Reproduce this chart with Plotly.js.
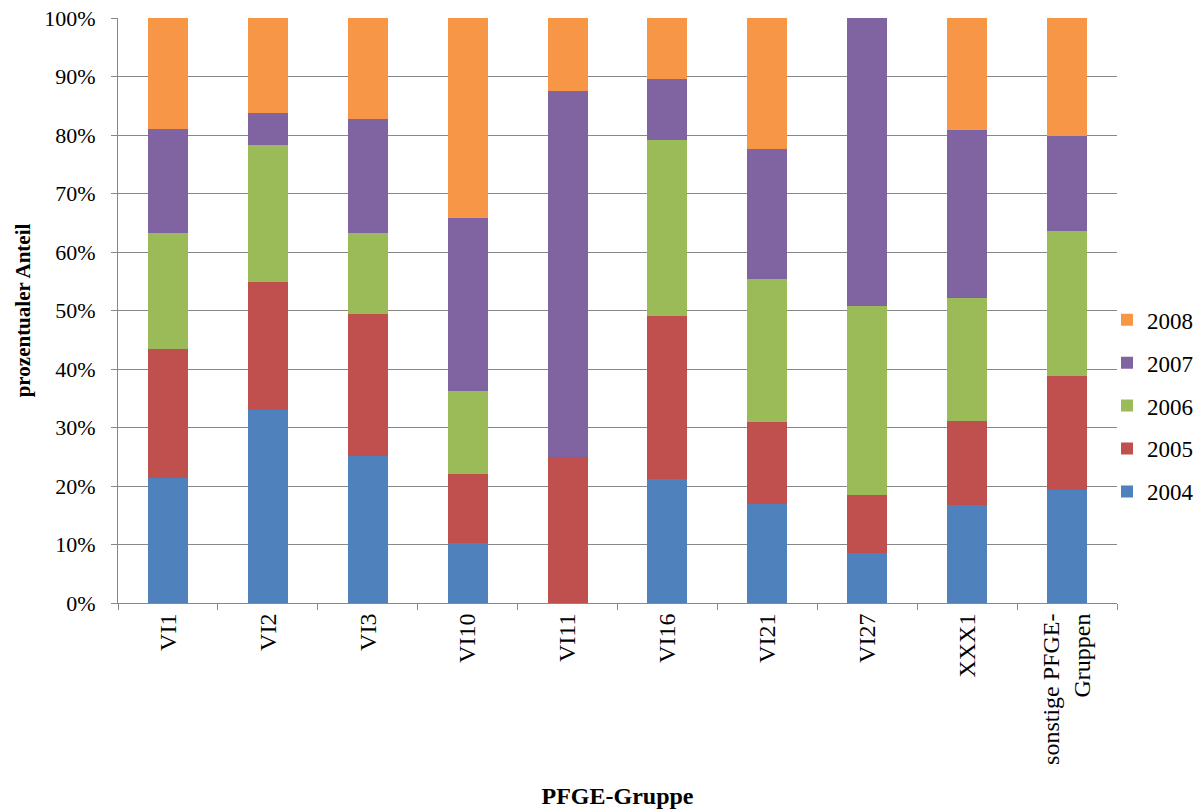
<!DOCTYPE html>
<html>
<head>
<meta charset="utf-8">
<script src="https://cdn.plot.ly/plotly-3.0.1.min.js"></script>
<style>
  html, body { margin: 0; padding: 0; background: #fff; }
  #chart { width: 1203px; height: 809px; }
</style>
</head>
<body>
<div id="chart"></div>
<script>
// PFGE groups on the category axis
const groups = ["VI1", "VI2", "VI3", "VI10", "VI11", "VI16", "VI21", "VI27", "XXX1", "sonstige PFGE-<br>Gruppen"];

// Share of isolates per year within each group (percent)
const y2004 = [21.4, 33.0, 25.1, 10.2, 0.0, 21.2, 17.0, 8.6, 16.8, 19.3];
const y2005 = [22.0, 21.8, 24.3, 11.9, 25.0, 27.8, 14.0, 9.9, 14.3, 19.5];
const y2006 = [19.9, 23.5, 13.8, 14.2, 0.0, 30.2, 24.4, 32.3, 21.0, 24.8];
const y2007 = [17.8, 5.5, 19.6, 29.5, 62.5, 10.4, 22.2, 49.2, 28.7, 16.3];
const y2008 = [18.9, 16.2, 17.2, 34.2, 12.5, 10.4, 22.4, 0.0, 19.2, 20.1];

const years = ["2004", "2005", "2006", "2007", "2008"];
const series = [y2004, y2005, y2006, y2007, y2008];
const colors = ["#4F81BD", "#C0504D", "#9BBB59", "#8064A2", "#F79646"];

// newest year listed first in the legend, as in the stack
const traces = series.map((vals, i) => ({
  type: "bar",
  name: years[i],
  legendgroup: years[i],
  legendrank: 10 - i,
  x: groups,
  y: vals,
  marker: { color: colors[i], line: { width: 0 } },
  hovertemplate: "%{x}: %{y:.1f}%<extra>" + years[i] + "</extra>"
}));

const serif = "'Liberation Serif', 'Times New Roman', Times, serif";

const layout = {
  width: 1203,
  height: 809,
  margin: { l: 118, r: 86, t: 18, b: 206, autoexpand: false },
  paper_bgcolor: "#ffffff",
  plot_bgcolor: "#ffffff",
  barmode: "stack",
  bargap: 0.6,
  font: { family: serif, size: 20, color: "#000" },
  showlegend: true,
  legend: {
    x: 0.990, xanchor: "left",
    y: 0.337, yanchor: "middle",
    traceorder: "grouped",
    tracegroupgap: 10,
    font: { family: serif, size: 23, color: "#000" },
    itemwidth: 30,
    bgcolor: "rgba(0,0,0,0)"
  },
  xaxis: {
    type: "category",
    tickangle: -90,
    ticks: "outside",
    tickson: "boundaries",
    ticklen: 6,
    tickcolor: "#888888",
    showline: true,
    linecolor: "#888888",
    linewidth: 1,
    showgrid: false,
    tickfont: { family: serif, size: 24, color: "#000" },
    title: {
      text: "<b>PFGE-Gruppe</b>",
      font: { family: serif, size: 24, color: "#000" },
      standoff: 24
    }
  },
  yaxis: {
    range: [0, 100],
    dtick: 10,
    ticksuffix: "%",
    ticks: "outside",
    ticklen: 6,
    ticklabelstandoff: 11,
    tickcolor: "#888888",
    showline: true,
    linecolor: "#888888",
    linewidth: 1,
    showgrid: true,
    gridcolor: "#888888",
    gridwidth: 1,
    zeroline: false,
    tickfont: { family: serif, size: 22, color: "#000" },
    title: {
      text: "<b>prozentualer Anteil</b>",
      font: { family: serif, size: 21, color: "#000" },
      standoff: 7
    }
  }
};

Plotly.newPlot("chart", traces, layout, { displayModeBar: false, responsive: false });
</script>
</body>
</html>
